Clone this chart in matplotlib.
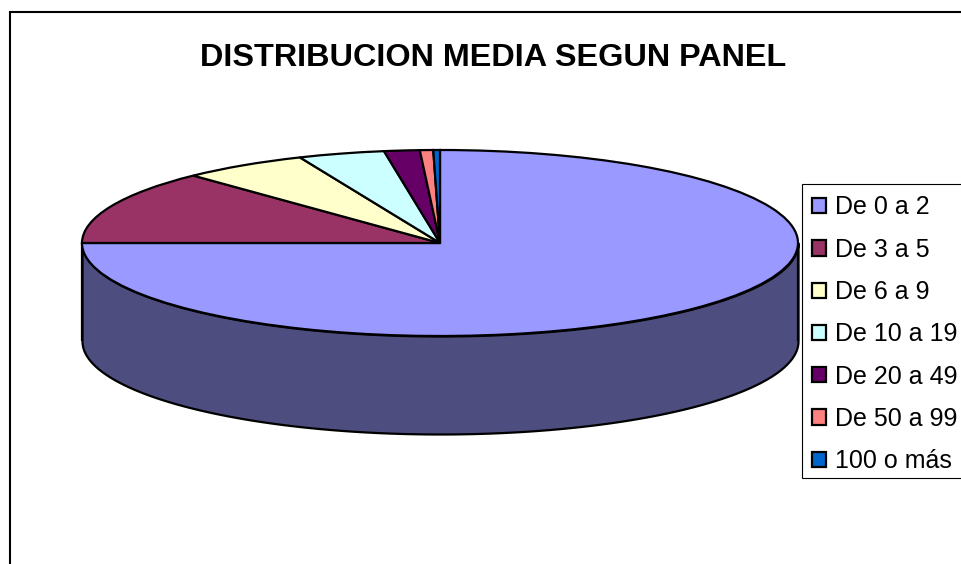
import numpy as np
import matplotlib.pyplot as plt
from matplotlib.patches import Rectangle

plt.rcParams['font.family'] = ['Liberation Sans', 'DejaVu Sans']

# Values (percent)
labels = ['De 0 a 2', 'De 3 a 5', 'De 6 a 9', 'De 10 a 19', 'De 20 a 49', 'De 50 a 99', '100 o más']
values = [75.0, 12.9, 5.7, 3.9, 1.6, 0.6, 0.3]
colors = ['#9999FF', '#993366', '#FFFFCC', '#CCFFFF', '#660066', '#FF8080', '#0066CC']
wall_color = '#4D4D80'

W, H = 962, 564
cx, cy = 440, 243   # pie centre, px
rx, ry = 358, 93    # ellipse radii, px
depth = 98 / ry     # wall height in axis units

fig = plt.figure(figsize=(W / 100, H / 100), dpi=100, facecolor='white')
ax = fig.add_axes([0, 0, 1, 1])

# Chart frame runs off the right and bottom of the image
fig.patches.append(Rectangle((10 / W, -0.1), 1.1, 1.1 - 12 / H, transform=fig.transFigure,
                             facecolor='white', edgecolor='black', linewidth=1.5, zorder=-5))

# Side wall of the 3D pie
t = np.linspace(-np.pi / 2, np.pi / 2, 200)
wall_x = np.sin(t)
wall_top = -np.cos(t)
ax.fill_between(wall_x, wall_top - depth, wall_top, color=wall_color, edgecolor='black',
                linewidth=1.6, zorder=1)
ax.plot([-1, -1], [0, -depth], color='black', lw=1.6, zorder=1.5, solid_capstyle='butt')
ax.plot([1, 1], [0, -depth], color='black', lw=1.6, zorder=1.5, solid_capstyle='butt')

wedges, _ = ax.pie(values, colors=colors, startangle=90, counterclock=False, radius=1,
                   wedgeprops={'edgecolor': 'black', 'linewidth': 1.6, 'zorder': 2})

# Squash the pie into an ellipse
ax.set_aspect('auto')
ax.set_xlim(-cx / rx, (W - cx) / rx)
ax.set_ylim(-(H - cy) / ry, cy / ry)
ax.axis('off')

fig.text(493 / W, 1 - 58 / H, 'DISTRIBUCION MEDIA SEGUN PANEL', ha='center', va='center',
         fontsize=23.3, fontweight='bold', color='black')

# Legend box also runs off the right edge, drawn apart from the entries
fig.patches.append(Rectangle((802 / W, 1 - 478 / H), 0.2, 294 / H, transform=fig.transFigure,
                             facecolor='white', edgecolor='black', linewidth=0.8, zorder=1))
fig.legend(wedges, labels, loc='upper left', bbox_to_anchor=(802.5 / W, 1 - 186 / H),
           borderaxespad=0, fontsize=18, frameon=False,
           handlelength=0.56, handleheight=0.56, handletextpad=0.38,
           labelspacing=0.73, borderpad=0.38)

fig.savefig('out.png', dpi=100, facecolor='white')
